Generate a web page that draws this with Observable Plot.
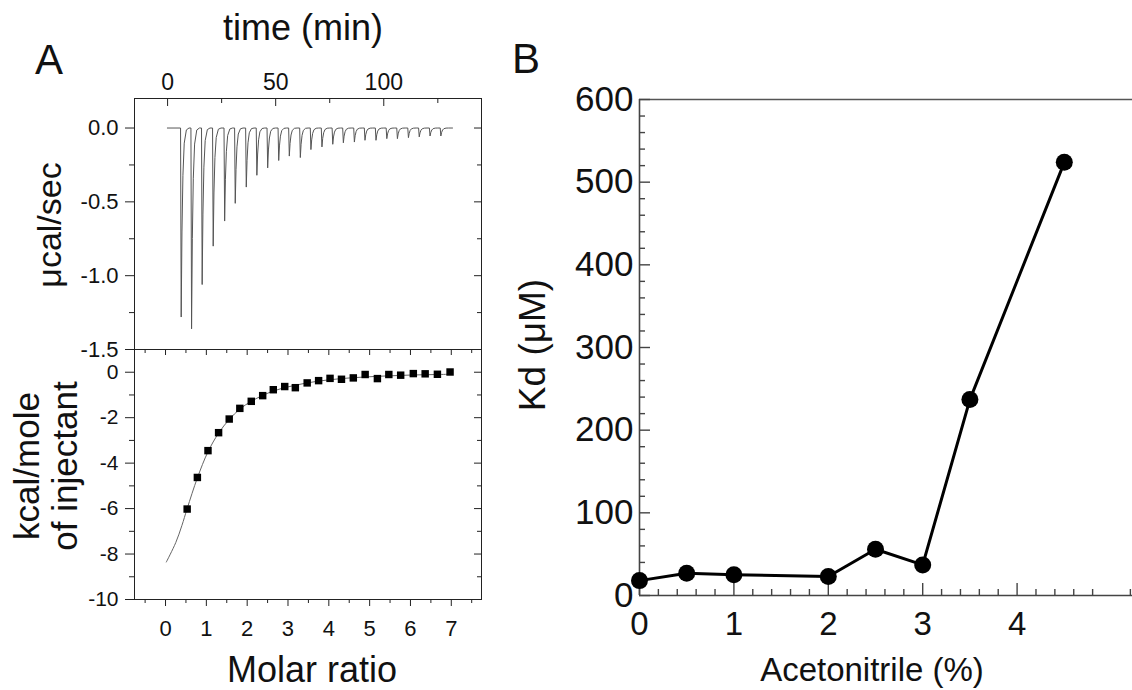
<!DOCTYPE html>
<html><head><meta charset="utf-8">
<script src="https://cdn.jsdelivr.net/npm/d3@7"></script>
<script src="https://cdn.jsdelivr.net/npm/@observablehq/plot@0.6"></script>
<style>
body{margin:0;background:#fff;}
#wrap{position:relative;width:1132px;height:690px;overflow:hidden;background:#fff;}
#wrap svg{position:absolute;left:0;top:0;}
</style></head><body><div id="wrap"></div>
<script>
// ---------- Panel A, top: raw ITC trace ----------
const injTimes = [6.3, 11.1, 16.0, 21.1, 26.4, 31.3, 36.4, 41.3, 46.3, 51.4, 56.3, 61.4, 66.3, 71.4, 76.4, 81.3, 86.4, 91.3, 96.4, 101.4, 106.3, 111.4, 116.4, 121.4, 126.4];
const injPeaks = [-1.28, -1.36, -1.06, -0.80, -0.63, -0.51, -0.40, -0.32, -0.27, -0.22, -0.19, -0.20, -0.146, -0.128, -0.11, -0.10, -0.095, -0.083, -0.083, -0.072, -0.072, -0.065, -0.06, -0.054, -0.054];
const peakShape = [[-0.3, 0], [0, 1], [0.35, 0.55], [0.8, 0.25], [1.4, 0.08], [2.4, 0.01], [3.6, 0]];
const traceStart = -0.1, traceEnd = 131.8;
const timeTicks = [0, 50, 100];
const timeMinor = [25, 75, 125];
const powerTicks = [0, -0.5, -1, -1.5];
const powerLabels = ["0.0", "-0.5", "-1.0", "-1.5"];
const powerMinor = [-0.25, -0.75, -1.25];

// ---------- Panel A, bottom: integrated heats ----------
const molarRatio = [0.53, 0.78, 1.04, 1.30, 1.56, 1.82, 2.10, 2.38, 2.64, 2.92, 3.18, 3.47, 3.75, 4.03, 4.31, 4.60, 4.89, 5.19, 5.47, 5.76, 6.07, 6.36, 6.66, 6.97];
const heatPerInj = [-6.02, -4.63, -3.45, -2.66, -2.06, -1.59, -1.28, -1.03, -0.77, -0.63, -0.68, -0.47, -0.37, -0.27, -0.31, -0.25, -0.10, -0.28, -0.10, -0.13, -0.06, -0.07, -0.09, 0.01];
const fitX = [0.02, 0.25, 0.40, 0.53, 0.78, 1.04, 1.30, 1.56, 1.82, 2.10, 2.38, 2.64, 2.92, 3.18, 3.47, 3.75, 4.03, 4.31, 4.60, 4.89, 5.19, 5.47, 5.76, 6.07, 6.36, 6.66, 6.97];
const fitY = [-8.35, -7.5, -6.75, -6.0, -4.65, -3.5, -2.68, -2.08, -1.62, -1.28, -1.02, -0.83, -0.68, -0.57, -0.47, -0.39, -0.33, -0.28, -0.24, -0.21, -0.18, -0.16, -0.14, -0.12, -0.11, -0.10, -0.09];
const ratioTicks = [0, 1, 2, 3, 4, 5, 6, 7];
const ratioMinor = [-0.5, 0.5, 1.5, 2.5, 3.5, 4.5, 5.5, 6.5, 7.5];
const heatTicks = [0, -2, -4, -6, -8, -10];
const heatLabels = ["0", "-2", "-4", "-6", "-8", "-10"];
const heatMinor = [-1, -3, -5, -7, -9];

// ---------- Panel B: Kd vs acetonitrile ----------
const acetonitrile = [0, 0.5, 1, 2, 2.5, 3, 3.5, 4.5];
const kd = [18, 27, 25, 23, 56, 37, 237, 524];
const acnTicks = [0, 1, 2, 3, 4];
const acnMinor = [0.2, 0.4, 0.6, 0.8, 1.2, 1.4, 1.6, 1.8, 2.2, 2.4, 2.6, 2.8, 3.2, 3.4, 3.6, 3.8, 4.2, 4.4, 4.6, 4.8, 5.2];
const kdTicks = [0, 100, 200, 300, 400, 500, 600];
const kdMinor = [20, 40, 60, 80, 120, 140, 160, 180, 220, 240, 260, 280, 320, 340, 360, 380, 420, 440, 460, 480, 520, 540, 560, 580];

const FONT = "Liberation Sans, Arial, Helvetica, sans-serif";
const W = 1132, H = 690;
const wrap = document.getElementById("wrap");
const baseStyle = {fontFamily: FONT, color: "#111", background: "transparent", overflow: "visible"};

// geometry of panel A
const aL = 134, aR = 481, aT = 98, aM = 349, aB = 599;
const aFW = aR - aL;

// build trace from the injection peaks
const trace = [{t: traceStart, v: 0}];
injTimes.forEach((t0, i) => peakShape.forEach(([dt, f]) => trace.push({t: t0 + dt, v: injPeaks[i] * f})));
trace.push({t: traceEnd, v: 0});

const powerMap = new Map(powerTicks.map((d, i) => [d, powerLabels[i]]));
const heatMap = new Map(heatTicks.map((d, i) => [d, heatLabels[i]]));

const upperFH = aM - aT;
const upper = Plot.plot({
  width: W, height: H,
  marginLeft: aL, marginRight: W - aR, marginTop: aT, marginBottom: H - aM,
  x: {domain: [-15.3, 145.2], axis: null, label: null},
  y: {domain: [-1.5, 0.2], axis: null, label: null},
  style: baseStyle,
  marks: [
    Plot.line(trace, {x: "t", y: "v", stroke: "#555", strokeWidth: 1}),
    Plot.frame({stroke: "#222", strokeWidth: 1}),
    Plot.tickX(timeTicks, {insetBottom: upperFH - 8, stroke: "#222"}),
    Plot.tickX(timeMinor, {insetBottom: upperFH - 5, stroke: "#222"}),
    Plot.axisX(timeTicks, {anchor: "top", tickSize: 0, tickPadding: 9, fontSize: 23, label: null}),
    Plot.axisY(powerTicks, {anchor: "left", tickSize: 9, tickPadding: 7, fontSize: 22, stroke: "#222", label: null, tickFormat: d => powerMap.get(d)}),
    Plot.axisY(powerMinor, {anchor: "left", tickSize: 5, tickFormat: () => "", stroke: "#222", label: null}),
    Plot.tickY(powerTicks.slice(0, 3), {insetLeft: aFW - 7, stroke: "#222"}),
    Plot.tickY(powerMinor, {insetLeft: aFW - 4, stroke: "#222"})
  ]
});
wrap.appendChild(upper);

const lowerFH = aB - aM;
const heatPts = molarRatio.map((x, i) => ({x, y: heatPerInj[i]}));
const fitPts = fitX.map((x, i) => ({x, y: fitY[i]}));
const lower = Plot.plot({
  width: W, height: H,
  marginLeft: aL, marginRight: W - aR, marginTop: aM, marginBottom: H - aB,
  x: {domain: [-0.76, 7.74], axis: null, label: null},
  y: {domain: [-10, 1.0], axis: null, label: null},
  style: baseStyle,
  marks: [
    Plot.line(fitPts, {x: "x", y: "y", stroke: "#666", strokeWidth: 1, curve: "catmull-rom"}),
    Plot.dot(heatPts, {x: "x", y: "y", symbol: "square", r: 4.2, fill: "#000", stroke: "none"}),
    Plot.frame({stroke: "#222", strokeWidth: 1}),
    Plot.axisX(ratioTicks, {anchor: "bottom", tickSize: 7, tickPadding: 14, fontSize: 22, stroke: "#222", label: null}),
    Plot.axisX(ratioMinor, {anchor: "bottom", tickSize: 4, tickFormat: () => "", stroke: "#222", label: null}),
    Plot.tickX(ratioTicks, {insetBottom: lowerFH - 6, stroke: "#222"}),
    Plot.tickX(ratioMinor, {insetBottom: lowerFH - 4, stroke: "#222"}),
    Plot.axisY(heatTicks, {anchor: "left", tickSize: 9, tickPadding: 7, fontSize: 21, stroke: "#222", label: null, tickFormat: d => heatMap.get(d)}),
    Plot.axisY(heatMinor, {anchor: "left", tickSize: 5, tickFormat: () => "", stroke: "#222", label: null}),
    Plot.tickY(heatTicks, {insetLeft: aFW - 7, stroke: "#222"}),
    Plot.tickY(heatMinor, {insetLeft: aFW - 4, stroke: "#222"})
  ]
});
wrap.appendChild(lower);

// panel B
const bL = 639, bT = 99, bB = 595;
const bFW = W - bL, bFH = bB - bT;
const kdPts = acetonitrile.map((x, i) => ({x, y: kd[i]}));
const panelB = Plot.plot({
  width: W, height: H,
  marginLeft: bL, marginRight: 0, marginTop: bT, marginBottom: H - bB,
  x: {domain: [0, bFW / 94.4], axis: null, label: null},
  y: {domain: [0, 600], axis: null, label: null},
  style: baseStyle,
  marks: [
    Plot.ruleY([600], {stroke: "#555", strokeWidth: 1.3}),
    Plot.ruleX([0], {stroke: "#444", strokeWidth: 1.6}),
    Plot.ruleY([0], {stroke: "#444", strokeWidth: 1.6}),
    Plot.tickX(acnTicks, {insetTop: bFH - 12, stroke: "#444", strokeWidth: 1.4}),
    Plot.tickX(acnMinor, {insetTop: bFH - 6, stroke: "#444", strokeWidth: 1.4}),
    Plot.tickY(kdTicks, {insetRight: bFW - 11, stroke: "#444", strokeWidth: 1.4}),
    Plot.tickY(kdMinor, {insetRight: bFW - 6, stroke: "#444", strokeWidth: 1.4}),
    Plot.axisX(acnTicks, {anchor: "bottom", tickSize: 0, tickPadding: 16, fontSize: 33, label: null}),
    Plot.axisY(kdTicks, {anchor: "left", tickSize: 0, tickPadding: 6, fontSize: 35, label: null}),
    Plot.line(kdPts, {x: "x", y: "y", stroke: "#000", strokeWidth: 3}),
    Plot.dot(kdPts, {x: "x", y: "y", r: 8.5, fill: "#000", stroke: "none"})
  ]
});
wrap.appendChild(panelB);

// text overlay: panel letters and axis titles
const svg = d3.select(wrap).append("svg").attr("width", W).attr("height", H)
  .style("font-family", FONT).attr("fill", "#111");
const texts = [
  {t: "A", x: 35, y: 74, s: 42, a: "start"},
  {t: "B", x: 512, y: 73, s: 42, a: "start"},
  {t: "time (min)", x: 303, y: 40, s: 36, a: "middle"},
  {t: "Molar ratio", x: 312, y: 682, s: 36, a: "middle"},
  {t: "Acetonitrile (%)", x: 872, y: 681, s: 33, a: "middle"},
  {t: "μcal/sec", x: 61, y: 225, s: 34, a: "middle", r: true},
  {t: "kcal/mole", x: 39, y: 466, s: 35, a: "middle", r: true},
  {t: "of injectant", x: 77, y: 466, s: 35, a: "middle", r: true},
  {t: "Kd (μM)", x: 545, y: 345, s: 37, a: "middle", r: true}
];
texts.forEach(d => {
  const el = svg.append("text").text(d.t).attr("font-size", d.s).attr("text-anchor", d.a);
  if (d.r) el.attr("transform", `translate(${d.x},${d.y}) rotate(-90)`);
  else el.attr("x", d.x).attr("y", d.y);
});
</script></body></html>
